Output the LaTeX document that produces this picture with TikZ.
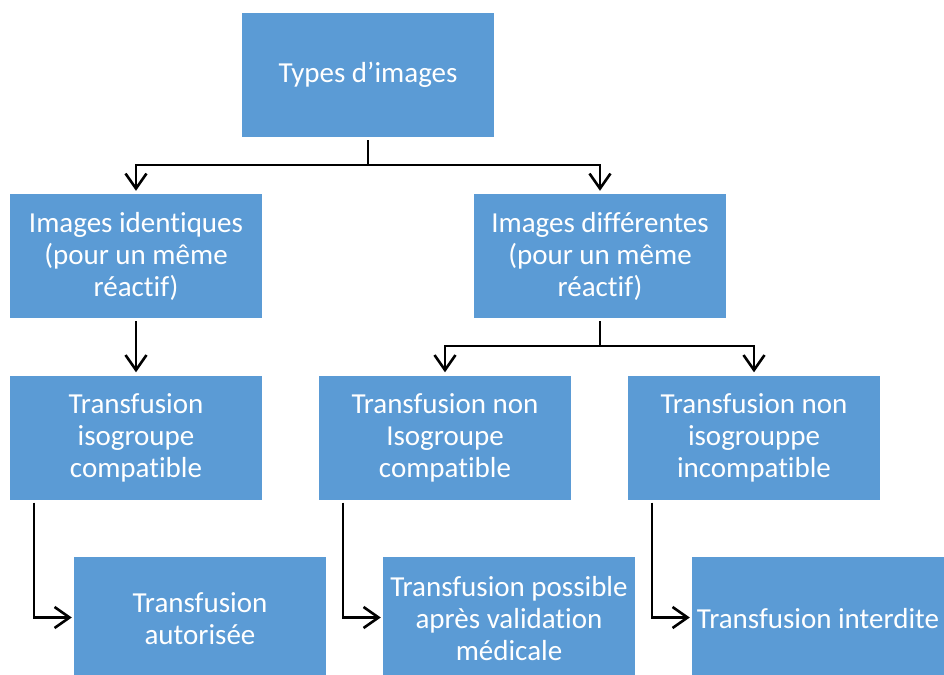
\documentclass[tikz,border=0pt]{standalone}
\usepackage{fontspec}
\setmainfont[Ligatures=NoCommon]{Carlito}
\usetikzlibrary{arrows.meta}
\definecolor{boxblue}{HTML}{5B9BD5}
\begin{document}
\begin{tikzpicture}[x=1pt,y=-1pt,
  box/.style={fill=boxblue,draw=none,text=white,minimum width=252pt,minimum height=124pt,
    inner sep=0pt,align=center,font=\fontsize{29pt}{32pt}\selectfont},
  conn/.style={draw=black,line width=2.6pt},
  arr/.style={conn,-{Straight Barb[length=15pt,width=21pt,line width=2.6pt]}}]
\useasboundingbox (0,0) rectangle (944,674);
\node[box] (top) at (368,75) {Types d’images};
\node[box] (l1l) at (136,256) {Images identiques\\(pour un même\\réactif)};
\node[box] (l1r) at (600,256) {Images différentes\\(pour un même\\réactif)};
\node[box] (l2l) at (136,437.5) {Transfusion\\isogroupe\\compatible};
\node[box] (l2m) at (445,437.5) {Transfusion non\\Isogroupe\\compatible};
\node[box] (l2r) at (754,437.5) {Transfusion non\\isogrouppe\\incompatible};
\node[box] (l3l) at (200,618.5) {Transfusion\\autorisée};
\node[box] (l3m) at (509,618.5) {Transfusion possible\\après validation\\médicale};
\node[box] (l3r) at (818,618.5) {Transfusion interdite};
\coordinate (f1) at (368,165);
\coordinate (f2) at (600,346);
\draw[conn] ([yshift=-3pt]top.south) -- (f1);
\draw[arr] (f1) -| ([yshift=3pt]l1l.north);
\draw[arr] (f1) -| ([yshift=3pt]l1r.north);
\draw[arr] ([yshift=-3pt]l1l.south) -- ([yshift=3pt]l2l.north);
\draw[conn] ([yshift=-3pt]l1r.south) -- (f2);
\draw[arr] (f2) -| ([yshift=3pt]l2m.north);
\draw[arr] (f2) -| ([yshift=3pt]l2r.north);
\draw[arr] ([xshift=24pt,yshift=-3pt]l2l.south west) |- ([xshift=-2pt,yshift=1pt]l3l.west);
\draw[arr] ([xshift=24pt,yshift=-3pt]l2m.south west) |- ([xshift=-2pt,yshift=1pt]l3m.west);
\draw[arr] ([xshift=24pt,yshift=-3pt]l2r.south west) |- ([xshift=-2pt,yshift=1pt]l3r.west);
\end{tikzpicture}
\end{document}
